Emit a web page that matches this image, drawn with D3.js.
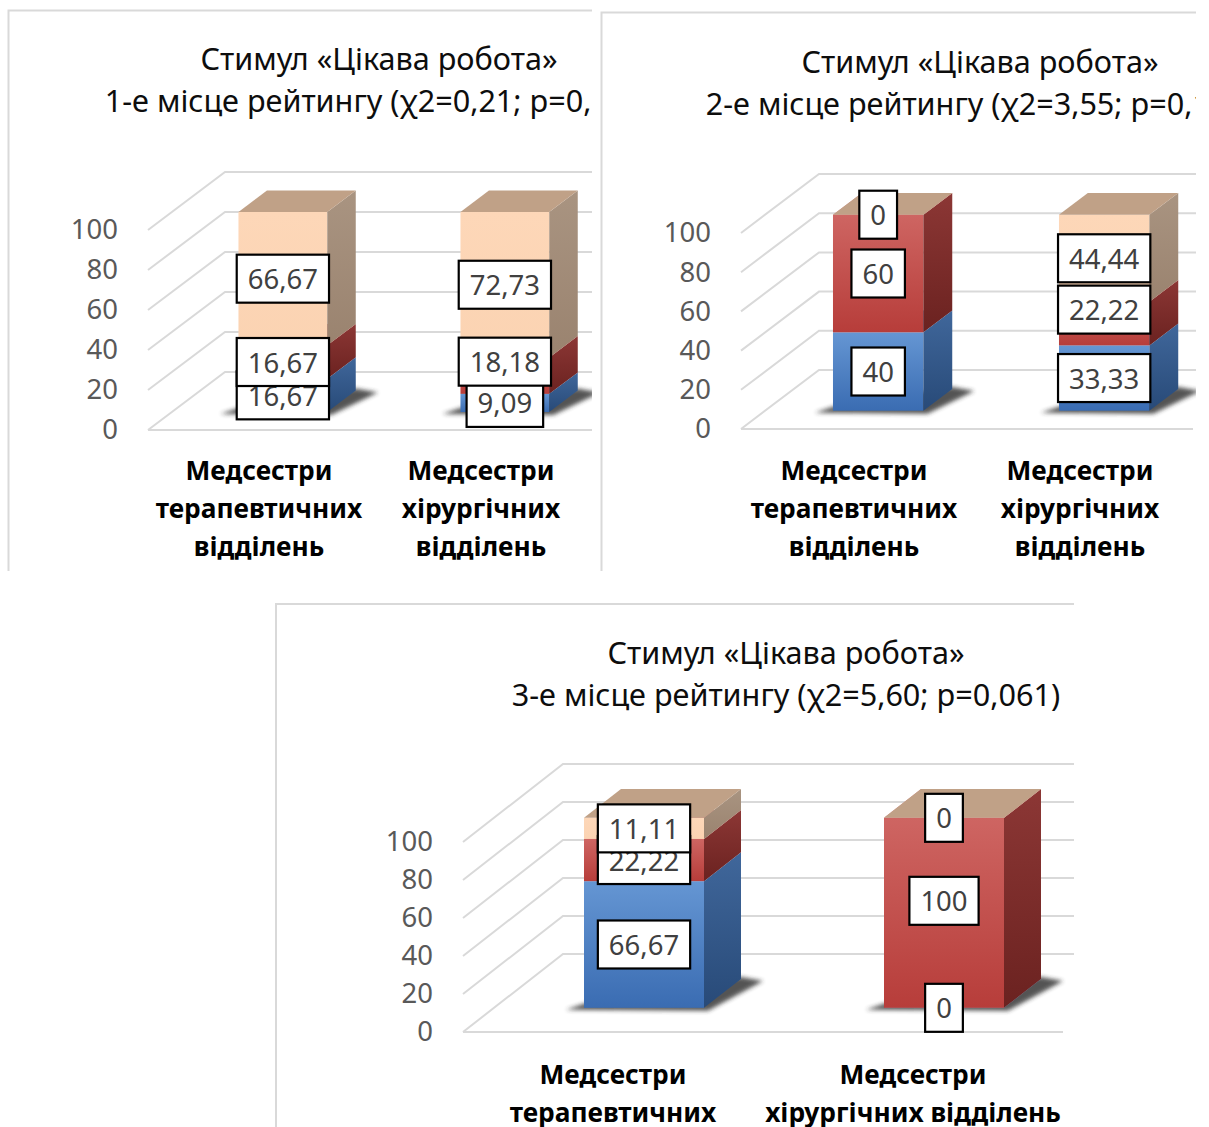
<!DOCTYPE html>
<html>
<head>
<meta charset="utf-8">
<script src="https://cdn.jsdelivr.net/npm/d3@7"></script>
<style>
  html, body { margin: 0; padding: 0; background: #fff; }
  svg { display: block; font-family: "Noto Sans", "Open Sans", sans-serif; }
</style>
</head>
<body>
<svg id="chart" width="1209" height="1127"></svg>
<script>
// ---- data ---------------------------------------------------------------
const categories = ["Медсестри терапевтичних відділень", "Медсестри хірургічних відділень"];
const titleLine1 = "Стимул «Цікава робота»";
const titleLine2 = [
  "1-е місце рейтингу (χ2=0,21; p=0,899)",
  "2-е місце рейтингу (χ2=3,55; p=0,169)",
  "3-е місце рейтингу (χ2=5,60; p=0,061)"
];
// stacked shares (%), per category: [lower, middle, upper] series
const rank1Values = [[16.67, 16.67, 66.67], [9.09, 18.18, 72.73]];
const rank2Values = [[40, 60, 0], [33.33, 22.22, 44.44]];
const rank3Values = [[66.67, 22.22, 11.11], [0, 100, 0]];
const yTicks = [0, 20, 40, 60, 80, 100];

// ---- layout & style -----------------------------------------------------
const seriesStyle = [
  { front: ["#6596d3", "#3a6cb2"], side: ["#40679b", "#284a78"], top: "#86acd9" },
  { front: ["#ce6562", "#b73d3a"], side: ["#8c3735", "#6b2220"], top: "#d98a87" },
  { front: ["#fdd7b8", "#fbd3b2"], side: ["#a99481", "#9a836f"], top: "#c0a187" }
];
const FRONT_FRAC = 0.31, DEPTH_FRAC = 0.37;
const FONT = 27.5, TITLE_FONT = 30.6, CAT_FONT = 26.3, LINE_H = 38;

const panels = [
  { values: rank1Values, title2: titleLine2[0],
    frame: { x: 8.5, y: 10.5 }, clip: { x: 0, y: 0, w: 592, h: 571 },
    x0: 148, x1: 592, y0: 430, k: 2.0, wdx: 77, wdy: 58,
    titleX: 379, titleY: [58, 100], catY: 470,
    nudge: [[0, 0, 0], [0, -14, 0]] },
  { values: rank2Values, title2: titleLine2[1],
    frame: { x: 601.5, y: 12.5 }, clip: { x: 598, y: 0, w: 598, h: 571 },
    x0: 741, x1: 1193, y0: 429, k: 1.96, wdx: 78, wdy: 59,
    titleX: 980, titleY: [61, 103], catY: 470,
    nudge: [[0, 0, 0], [0, -14, 0]] },
  { values: rank3Values, title2: titleLine2[2],
    frame: { x: 276, y: 604 }, clip: { x: 274, y: 598, w: 800, h: 529 },
    x0: 463, x1: 1063, y0: 1032, k: 1.9, wdx: 100, wdy: 78,
    titleX: 786, titleY: [652, 694], catY: 1074,
    nudge: [[0, 0, 0], [0, -12, 0]] }
];

const svg = d3.select("#chart");
const defs = svg.append("defs");

function linearGrad(id, c0, c1) {
  const g = defs.append("linearGradient").attr("id", id)
    .attr("x1", 0).attr("y1", 0).attr("x2", 0).attr("y2", 1);
  g.append("stop").attr("offset", "0%").attr("stop-color", c0);
  g.append("stop").attr("offset", "100%").attr("stop-color", c1);
}
seriesStyle.forEach((s, i) => {
  linearGrad("front" + i, s.front[0], s.front[1]);
  linearGrad("side" + i, s.side[0], s.side[1]);
});
const blur = defs.append("filter").attr("id", "soft")
  .attr("x", "-30%").attr("y", "-30%").attr("width", "160%").attr("height", "160%");
blur.append("feGaussianBlur").attr("stdDeviation", 2.2);

const fmtComma = d3.formatLocale({ decimal: ",", thousands: " ", grouping: [3], currency: ["", ""] }).format(".2f");
const fmtValue = v => Number.isInteger(v) ? String(v) : fmtComma(v);

function wrapWords(text, maxW, measure) {
  const words = text.split(" ");
  const lines = [];
  let cur = "";
  words.forEach(w => {
    const t = cur ? cur + " " + w : w;
    if (cur && measure(t) > maxW) { lines.push(cur); cur = w; } else cur = t;
  });
  if (cur) lines.push(cur);
  return lines;
}

panels.forEach((p, pi) => {
  const clipId = "clip" + pi;
  defs.append("clipPath").attr("id", clipId)
    .append("rect").attr("x", p.clip.x).attr("y", p.clip.y)
    .attr("width", p.clip.w).attr("height", p.clip.h);

  const g = svg.append("g").attr("clip-path", `url(#${clipId})`);

  // chart area
  g.append("rect").attr("x", p.frame.x).attr("y", p.frame.y)
    .attr("width", 2000).attr("height", 2000)
    .attr("fill", "#fff").attr("stroke", "#d9d9d9").attr("stroke-width", 2);

  // title
  g.append("text").attr("x", p.titleX).attr("y", p.titleY[0])
    .attr("text-anchor", "middle").attr("dominant-baseline", "central")
    .attr("font-size", TITLE_FONT).attr("fill", "#0d0d0d").text(titleLine1);
  g.append("text").attr("x", p.titleX).attr("y", p.titleY[1])
    .attr("text-anchor", "middle").attr("dominant-baseline", "central")
    .attr("font-size", TITLE_FONT).attr("fill", "#0d0d0d").text(p.title2);

  // scales
  const y = d3.scaleLinear().domain([0, 100]).range([p.y0, p.y0 - 100 * p.k]);
  const x = d3.scaleBand().domain(categories).range([p.x0, p.x1])
    .paddingInner(0.6).paddingOuter(0.3);
  const fdx = p.wdx * FRONT_FRAC, fdy = p.wdy * FRONT_FRAC;
  const ddx = p.wdx * DEPTH_FRAC, ddy = p.wdy * DEPTH_FRAC;

  // walls: side-wall diagonals and back-wall gridlines
  const grid = g.append("g").attr("stroke", "#d9d9d9").attr("stroke-width", 2).attr("fill", "none");
  yTicks.forEach(v => {
    grid.append("path").attr("d",
      `M${p.x0},${y(v)} L${p.x0 + p.wdx},${y(v) - p.wdy} L${p.x1 + p.wdx},${y(v) - p.wdy}`);
  });
  grid.append("path").attr("d", `M${p.x0},${y(0)} L${p.x1},${y(0)}`);

  // value axis labels
  const axis = g.append("g").attr("transform", `translate(${p.x0},0)`)
    .call(d3.axisLeft(y).tickValues(yTicks).tickSize(0).tickPadding(30).tickFormat(d3.format("d")));
  axis.select(".domain").remove();
  axis.selectAll("text").attr("font-size", FONT).attr("fill", "#595959")
    .attr("font-family", "Noto Sans, Open Sans, sans-serif");

  // stacked segments
  const stacked = d3.stack().keys([0, 1, 2])(p.values);

  // soft floor shadow under each column
  categories.forEach(c => {
    const xl = x(c) + fdx, xr = xl + x.bandwidth(), yb = y(0) - fdy;
    g.append("polygon")
      .attr("points", [
        [xl - 18, yb + 2], [xl, yb - 4], [xr + ddx, yb - ddy - 2],
        [xr + ddx + 22, yb - ddy + 2], [xr + 4, yb + 3]
      ].map(d => d.join(",")).join(" "))
      .attr("fill", "#2b2b2b").attr("opacity", 0.8).attr("filter", "url(#soft)");
  });

  categories.forEach((c, ci) => {
    const xl = x(c) + fdx, xr = xl + x.bandwidth();
    stacked.forEach((s, si) => {
      const [a, b] = s[ci];
      const yb = y(a) - fdy, yt = y(b) - fdy;
      if (yb - yt > 0) {
        g.append("rect").attr("x", xl).attr("y", yt)
          .attr("width", xr - xl).attr("height", yb - yt)
          .attr("fill", `url(#front${si})`);
        g.append("polygon").attr("points",
          [[xr, yb], [xr + ddx, yb - ddy], [xr + ddx, yt - ddy], [xr, yt]].map(d => d.join(",")).join(" "))
          .attr("fill", `url(#side${si})`);
      }
      g.append("polygon").attr("points",
        [[xl, yt], [xr, yt], [xr + ddx, yt - ddy], [xl + ddx, yt - ddy]].map(d => d.join(",")).join(" "))
        .attr("fill", seriesStyle[si].top);
    });
  });

  // data labels
  categories.forEach((c, ci) => {
    const cx = x(c) + fdx + x.bandwidth() / 2;
    stacked.forEach((s, si) => {
      const [a, b] = s[ci];
      const cy = y((a + b) / 2) - fdy + p.nudge[ci][si];
      const lg = g.append("g");
      const rect = lg.append("rect");
      const t = lg.append("text").attr("x", cx).attr("y", cy)
        .attr("text-anchor", "middle").attr("dominant-baseline", "central")
        .attr("font-size", FONT).attr("fill", "#404040")
        .text(fmtValue(p.values[ci][si]));
      const w = t.node().getComputedTextLength() + 22;
      rect.attr("x", cx - w / 2).attr("y", cy - 24).attr("width", w).attr("height", 48)
        .attr("fill", "#fff").attr("stroke", "#000").attr("stroke-width", 2.2);
    });
  });

  // category labels, wrapped to the category step
  const probe = g.append("text").attr("font-size", CAT_FONT).attr("font-weight", "bold")
    .attr("visibility", "hidden");
  const measure = s => { probe.text(s); return probe.node().getComputedTextLength(); };
  categories.forEach(c => {
    const cx = x(c) + x.bandwidth() / 2;
    const lines = wrapWords(c, x.step() + 8, measure);
    const t = g.append("text").attr("text-anchor", "middle")
      .attr("font-size", CAT_FONT).attr("font-weight", "bold").attr("fill", "#000");
    lines.forEach((ln, li) => {
      t.append("tspan").attr("x", cx).attr("y", p.catY + li * LINE_H)
        .attr("dominant-baseline", "central").text(ln);
    });
  });
  probe.remove();
});
</script>
</body>
</html>
